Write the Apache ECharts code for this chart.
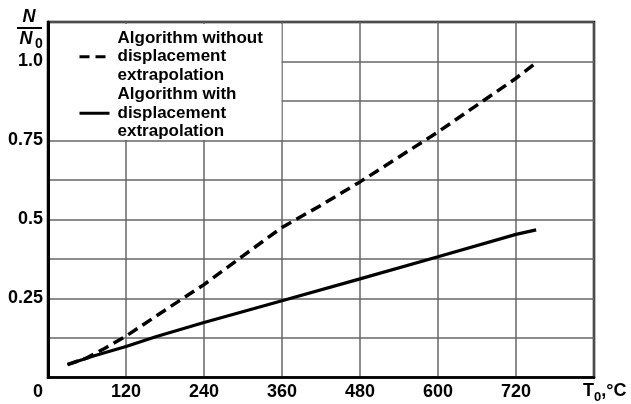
<!DOCTYPE html>
<html><head><meta charset="utf-8">
<script src="https://cdn.jsdelivr.net/npm/echarts@6/dist/echarts.min.js"></script>
<style>html,body{margin:0;padding:0;background:#fff}#c{width:631px;height:404px}</style>
</head><body><div id="c"></div>
<script>
const seriesNames = ['Algorithm without\ndisplacement\nextrapolation', 'Algorithm with\ndisplacement\nextrapolation'];
const withoutT = [30, 60, 87, 120, 180, 240, 300, 360, 420, 480, 540, 600, 660, 720, 752];
const withoutN = [0.041, 0.062, 0.092, 0.131, 0.213, 0.294, 0.385, 0.475, 0.545, 0.619, 0.698, 0.777, 0.862, 0.947, 0.998];
const withT = [30, 70, 120, 167, 240, 360, 480, 600, 720, 751];
const withN = [0.041, 0.068, 0.098, 0.13, 0.174, 0.243, 0.312, 0.382, 0.453, 0.467];
const xTickLabels = ['0', '120', '240', '360', '480', '600', '720'];
const yTickLabels = {'0.25': '0.25', '0.5': '0.5', '0.75': '0.75', '1': '1.0'};

const FONT = 'Liberation Sans, Arial, sans-serif';
const chart = echarts.init(document.getElementById('c'));
const pairs = (xs, ys) => xs.map((x, i) => [x, ys[i]]);
const dashStyle = {color: '#000', width: 3.5, type: [11, 6]};
const solidStyle = {color: '#000', width: 3.2, type: 'solid'};

chart.setOption({
  animation: false,
  backgroundColor: '#fff',
  grid: {left: 48, right: 37, top: 22, bottom: 26, show: true, borderColor: '#000', borderWidth: 2.5, containLabel: false},
  xAxis: {
    type: 'value', min: 0, max: 840, interval: 120,
    name: '{t|T}{s|0}{t|,°C}', nameLocation: 'end', nameGap: -11,
    nameTextStyle: {align: 'left', verticalAlign: 'top', padding: [5, 0, 0, 0],
      rich: {t: {fontFamily: FONT, fontSize: 18, fontWeight: 'bold', color: '#000', lineHeight: 18},
             s: {fontFamily: FONT, fontSize: 13, fontWeight: 'bold', color: '#000', lineHeight: 18, padding: [12, 0, 0, 0]}}},
    axisLine: {show: true, lineStyle: {color: '#000', width: 2.5}},
    axisTick: {show: false},
    splitLine: {show: true, lineStyle: {color: '#666', width: 1.5}},
    axisLabel: {
      margin: 6, fontFamily: FONT, fontSize: 18, fontWeight: 'bold', color: '#000',
      formatter: v => {
        const s = xTickLabels.find(l => +l === v);
        if (s === undefined) return '';
        return v === 0 ? '{z|' + s + '}' : s;
      },
      rich: {z: {fontFamily: FONT, fontSize: 18, fontWeight: 'bold', color: '#000', padding: [0, 20, 0, 0]}}
    }
  },
  yAxis: {
    type: 'value', min: 0, max: 1.125, interval: 0.125,
    axisLine: {show: true, lineStyle: {color: '#000', width: 3}},
    axisTick: {show: false},
    splitLine: {show: true, lineStyle: {color: '#666', width: 1.5}},
    axisLabel: {
      margin: 5, fontFamily: FONT, fontSize: 18, fontWeight: 'bold', color: '#000',
      formatter: v => yTickLabels[String(v)] || ''
    }
  },
  legend: {
    orient: 'vertical', left: 78, top: 29, padding: 0, itemGap: 1,
    itemWidth: 30, itemHeight: 14, z: 10,
    itemStyle: {opacity: 0},
    textStyle: {fontFamily: FONT, fontSize: 17, fontWeight: 'bold', color: '#000', lineHeight: 18.5, padding: [0, 0, 0, 3]},
    data: [
      {name: seriesNames[0], itemStyle: {opacity: 0}, lineStyle: {color: '#000', width: 3, type: [10, 6], opacity: 1}},
      {name: seriesNames[1], itemStyle: {opacity: 0}, lineStyle: {color: '#000', width: 3, type: 'solid', opacity: 1}}
    ]
  },
  series: [
    {name: seriesNames[0], type: 'line', symbol: 'none', z: 3, color: '#000',
     lineStyle: dashStyle, data: pairs(withoutT, withoutN)},
    {name: seriesNames[1], type: 'line', symbol: 'none', z: 3, color: '#000',
     lineStyle: solidStyle, data: pairs(withT, withN)}
  ]
});

const p0 = chart.convertToPixel({gridIndex: 0}, [0, 1.125]);
const p1 = chart.convertToPixel({gridIndex: 0}, [360, 0.75]);
chart.setOption({
  graphic: [
    {type: 'rect', z: 1, shape: {x: p0[0] + 2, y: p0[1] + 2, width: p1[0] - p0[0] - 2.5, height: p1[1] - p0[1] - 2.5}, style: {fill: '#fff'}},
    {type: 'text', z: 5, x: 29, y: 17, style: {text: 'N', fontFamily: FONT, fontSize: 18, fontWeight: 'bold', fontStyle: 'italic', fill: '#000', align: 'center', verticalAlign: 'middle'}},
    {type: 'line', z: 5, shape: {x1: 17, y1: 28, x2: 42, y2: 28}, style: {stroke: '#000', lineWidth: 2}},
    {type: 'text', z: 5, x: 26, y: 39, style: {text: 'N', fontFamily: FONT, fontSize: 18, fontWeight: 'bold', fontStyle: 'italic', fill: '#000', align: 'center', verticalAlign: 'middle'}},
    {type: 'text', z: 5, x: 39, y: 44, style: {text: '0', fontFamily: FONT, fontSize: 14, fontWeight: 'bold', fill: '#000', align: 'center', verticalAlign: 'middle'}}
  ]
});
</script></body></html>
